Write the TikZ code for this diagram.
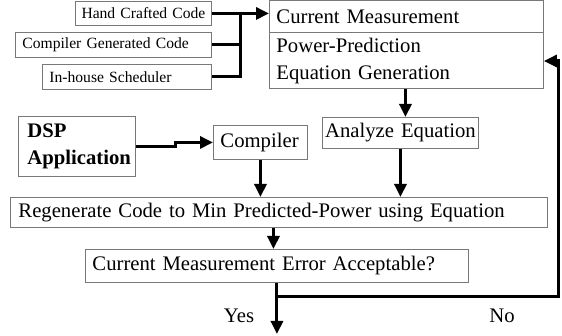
\documentclass[tikz,border=0pt]{standalone}
\usepackage{fontspec}
\setmainfont{Liberation Serif}
\usetikzlibrary{arrows.meta,calc}
\definecolor{boxgray}{RGB}{120,120,120}
\tikzset{
  box/.style={draw=boxgray, line width=0.9pt, anchor=north west, inner xsep=7pt,
    inner ysep=0pt, align=left, font=\fontsize{20.7}{27}\selectfont},
  smallbox/.style={box, font=\fontsize{15.6}{19}\selectfont},
  conn/.style={line width=3pt, line join=miter},
  arr/.style={conn, -{Triangle[length=13pt,width=12pt]}},
  lbl/.style={font=\fontsize{20.7}{27}\selectfont, inner sep=0pt}
}
\begin{document}
\begin{tikzpicture}[x=1pt, y=-1pt]
\useasboundingbox (0,0) rectangle (562,336);

% code sources
\node[smallbox, align=center, inner xsep=1pt, minimum width=136pt, minimum height=24pt, text width=134pt] (hand) at (75,1) {Hand Crafted Code};
\node[smallbox, minimum width=196pt, minimum height=25pt, text width=182pt] (cgc) at (15,32) {Compiler Generated Code};
\node[smallbox, minimum width=169pt, minimum height=25pt, text width=155pt] (ihs) at (42,64) {In-house Scheduler};

% measurement / equation block
\node[box, minimum width=274pt, minimum height=32pt, text width=260pt] (cm) at (269,0.5) {Current Measurement};
\node[box, minimum width=274pt, minimum height=56pt, text width=260pt] (ppe) at (269,32.5) {Power-Prediction\\Equation Generation};

% application path
\node[box, inner xsep=9pt, minimum width=117pt, minimum height=60pt, text width=99pt] (dsp) at (18,116) {\bfseries DSP\\\bfseries Application};
\node[box, minimum width=94pt, minimum height=34pt, text width=80pt] (comp) at (213,125) {Compiler};
\node[box, align=center, inner xsep=1pt, minimum width=156pt, minimum height=31pt, text width=154pt] (anl) at (322,117) {Analyze Equation};

\node[box, inner xsep=8pt, minimum width=537pt, minimum height=30pt, text width=521pt] (regen) at (10,197) {Regenerate Code to Min Predicted-Power using Equation};
\node[box, minimum width=383pt, minimum height=33pt, text width=369pt] (err) at (85,249) {Current Measurement Error Acceptable?};

% merge of the three code sources
\coordinate (jtop) at (240,0 |- hand.east);
\draw[conn] (hand.east) -- (jtop) -- (jtop |- ihs.east) -- (ihs.east);
\draw[conn] (cgc.east) -- (cgc.east -| jtop);
\draw[arr] (jtop) -- (jtop -| cm.west);

% application to compiler
\draw[arr] (dsp.east) -- ++(40,0) |- (comp.west);

% equation analysis and regeneration
\draw[arr] ([xshift=5pt]anl.north |- ppe.south) -- ([xshift=5pt]anl.north);
\draw[arr] (anl.south) -- (anl.south |- regen.north);
\draw[arr] (comp.south) -- (comp.south |- regen.north);
\draw[arr] ([xshift=-3.5pt]err.north |- regen.south) -- ([xshift=-3.5pt]err.north);

% decision
\coordinate (jn) at (err.south |- 0,297);
\coordinate (done) at (err.south |- 0,334);
\coordinate (ret) at (558,61);
\draw[conn] (err.south) -- (jn);
\draw[arr] (jn) -- (done);
\draw[arr] (jn) -| (ret) -- (ret -| ppe.east);

\node[lbl] (yes) at (239,316) {Yes};
\node[lbl] (no) at (502,316) {No};
\end{tikzpicture}
\end{document}
